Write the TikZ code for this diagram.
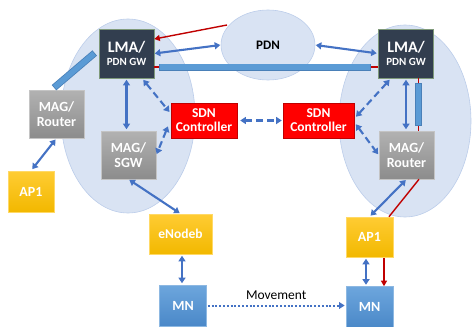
\documentclass[tikz,border=0pt]{standalone}
\usepackage{fontspec}
\setmainfont{Carlito}
\usetikzlibrary{arrows.meta,calc,shapes.geometric}

\definecolor{cloudfill}{HTML}{D9E3F3}
\definecolor{cloudedge}{HTML}{BCCDEA}
\definecolor{navy}{HTML}{323E4F}
\definecolor{navyedge}{HTML}{7F9A7A}
\definecolor{greytop}{HTML}{B2B2B2}
\definecolor{greybot}{HTML}{8C8C8C}
\definecolor{greyedge}{HTML}{C4C4C4}
\definecolor{goldtop}{HTML}{FFCC33}
\definecolor{goldbot}{HTML}{F2B800}
\definecolor{goldedge}{HTML}{FFD966}
\definecolor{mntop}{HTML}{6DA6DD}
\definecolor{mnbot}{HTML}{4A88C8}
\definecolor{mnedge}{HTML}{8DB8E2}
\definecolor{sdnred}{HTML}{FF0000}
\definecolor{sdnedge}{HTML}{C00000}
\definecolor{linkblue}{HTML}{4472C4}
\definecolor{tunfill}{HTML}{5B9BD5}
\definecolor{tunedge}{HTML}{4A80B8}
\definecolor{sigred}{HTML}{C00000}

\tikzset{
  cloud/.style={ellipse, fill=cloudfill, draw=cloudedge, line width=0.6pt, inner sep=0pt},
  box/.style={rectangle, inner sep=0pt, align=center, text=white, line width=0.6pt,
              font=\fontsize{14}{15}\selectfont\bfseries},
  lmabox/.style={box, fill=navy, draw=navyedge, minimum width=55pt, minimum height=49pt},
  magbox/.style={box, top color=greytop, bottom color=greybot, draw=greyedge,
                 minimum width=55pt, minimum height=48pt},
  apbox/.style={box, top color=goldtop, bottom color=goldbot, draw=goldedge},
  mnbox/.style={box, top color=mntop, bottom color=mnbot, draw=mnedge,
                minimum width=47pt, minimum height=41pt},
  sdnbox/.style={box, fill=sdnred, draw=sdnedge, minimum height=35pt,
                 font=\fontsize{13.5}{14}\selectfont\bfseries},
  biarrow/.style={draw=linkblue, line width=2.1pt, {Triangle[length=5.5pt,width=7pt]}-{Triangle[length=5.5pt,width=7pt]}},
  ctrlarrow/.style={biarrow, dash pattern=on 7pt off 4pt},
  movearrow/.style={draw=linkblue, line width=2pt, dash pattern=on 2pt off 1.8pt,
                    -{Triangle[length=5.5pt,width=6.5pt]}},
  tunnel/.style={draw=tunedge, line width=7pt,
                 postaction={draw=tunfill, line width=5.4pt, shorten >=0.8pt, shorten <=0.8pt}},
  stub/.style={draw=sigred, line width=1.5pt},
  signal/.style={draw=sigred, line width=1.4pt},
  sigarrow/.style={signal, -{Triangle[length=5.5pt,width=6pt]}}
}
\newcommand{\lmatop}{\fontsize{16}{17}\selectfont\bfseries}
\newcommand{\lmasub}{\fontsize{11}{12}\selectfont\bfseries}

\begin{document}
\begin{tikzpicture}[x=1pt,y=-1pt]
\useasboundingbox (0,0) rectangle (472,327);

% network domains
\node[cloud, minimum width=134pt, minimum height=194pt] (cloudL) at (128,116) {};
\node[cloud, minimum width=132pt, minimum height=192pt] (cloudR) at (405,121) {};
\node[cloud, minimum width=94pt, minimum height=70pt,
      font=\fontsize{13}{14}\selectfont\bfseries] (pdn) at (268,45) {PDN};

% gateways and access nodes
\node[lmabox] (lmaL) at (126.5,53.5) {\lmatop LMA/\\[-2pt]\lmasub PDN GW};
\node[lmabox] (lmaR) at (406,53.5) {\lmatop LMA/\\[-2pt]\lmasub PDN GW};
\node[magbox] (magL) at (56.5,114) {MAG/\\Router};
\node[magbox] (sgw) at (128.5,155) {MAG/\\SGW};
\node[magbox] (magR) at (406.5,155) {MAG/\\Router};
\node[sdnbox, minimum width=66pt] (sdnL) at (204,120.5) {SDN\\Controller};
\node[sdnbox, minimum width=71pt] (sdnR) at (318.5,120.5) {SDN\\Controller};
\node[apbox, minimum width=46pt, minimum height=41pt] (apL) at (31,191.5) {AP1};
\node[apbox, minimum width=63pt, minimum height=40pt,
      font=\fontsize{13.5}{14}\selectfont\bfseries] (enb) at (180.5,234) {eNodeb};
\node[apbox, minimum width=47pt, minimum height=40pt] (apR) at (369.5,237) {AP1};
\node[mnbox] (mnL) at (183,305.5) {MN};
\node[mnbox] (mnR) at (369.5,307) {MN};

% tunnel end points
\coordinate (tLa) at ($(lmaL.east)+(0,13.5)$);
\coordinate (tLb) at ($(tLa)+(5,0)$);
\coordinate (tRa) at ($(lmaR.west)+(0,13.5)$);
\coordinate (tRb) at ($(tRa)+(-7,0)$);
\coordinate (vTa) at ($(lmaR.south)+(12.5,0)$);
\coordinate (vTb) at ($(vTa)+(0,5)$);
\coordinate (vBa) at ($(magR.north)+(12,0)$);
\coordinate (vBb) at ($(vBa)+(0,-5)$);
\coordinate (dTa) at ($(lmaL.west)+(-4,-0.5)$);
\coordinate (dTb) at ($(magL.north)+(-2.5,-2)$);

% tunnels
\draw[tunnel] (tLb) -- (tRb);
\draw[stub] (tLa) -- (tLb);
\draw[stub] (tRa) -- (tRb);
\draw[tunnel] (vTb) -- (vBb);
\draw[stub] (vTa) -- (vTb);
\draw[stub] (vBa) -- (vBb);
\draw[tunnel] (dTa) -- (dTb);

% signalling from the PDN
\draw[sigarrow] ($(pdn.center)+(-41,-20)$) -- ($(lmaL.east)+(0,-14.5)$);

% data paths
\draw[biarrow, shorten <=0.5pt, shorten >=0.5pt] (lmaL.east) -- (pdn.west);
\draw[biarrow, shorten <=0.5pt, shorten >=1.5pt] (pdn.east) -- (lmaR.west);
\draw[biarrow, shorten <=1.5pt, shorten >=1.5pt] (lmaL.south) -- (lmaL.south |- sgw.north);
\draw[biarrow, shorten <=1.5pt, shorten >=1.5pt] (lmaR.south) -- (lmaR.south |- magR.north);
\draw[biarrow, shorten <=1.5pt, shorten >=2pt] (magL.south) -- (apL.north);
\draw[biarrow, shorten <=1pt, shorten >=1pt] (sgw.south) -- (enb.north);
\draw[biarrow, shorten <=1.5pt, shorten >=1.5pt] ($(enb.south)+(1.5,0)$) -- ($(mnL.north)+(-1,0)$);
\draw[biarrow, shorten <=1pt, shorten >=1.5pt] (magR.south) -- (apR.north);
\draw[biarrow, shorten <=1.5pt, shorten >=1.5pt] ($(apR.south)+(-3.5,0)$) -- ($(mnR.north)+(-3.5,0)$);

% control paths
\draw[ctrlarrow, shorten <=2pt, shorten >=2pt] ($(lmaL.south)+(15.5,0)$) -- ($(sdnL.west)+(0,-7)$);
\draw[ctrlarrow, shorten <=2pt, shorten >=1pt] ($(sdnL.west)+(-2,4)$) -- (sgw.east);
\draw[ctrlarrow, shorten <=3pt, shorten >=1pt] (sdnL.east) -- (sdnR.west);
\draw[ctrlarrow, shorten <=1pt, shorten >=2pt] ($(sdnR.east)+(1,-3)$) -- ($(lmaR.south)+(-15,0)$);
\draw[ctrlarrow, shorten <=1pt, shorten >=1pt] ($(sdnR.east)+(1,3)$) -- (magR.west);

% signalling towards the mobile node
\draw[signal] ($(magR.south)+(12.5,0)$) -- ($(apR.north)+(19.5,0)$);
\draw[sigarrow, shorten <=1pt] ($(apR.south)+(14.5,0)$) -- ($(mnR.north)+(14.5,0)$);

% handover
\draw[movearrow, shorten <=1pt, shorten >=1pt] (mnL.east) -- (mnL.east -| mnR.west)
  node[midway, above=2pt, text=black, font=\fontsize{13.5}{14}\selectfont] (mvlabel) {Movement};
\end{tikzpicture}
\end{document}
